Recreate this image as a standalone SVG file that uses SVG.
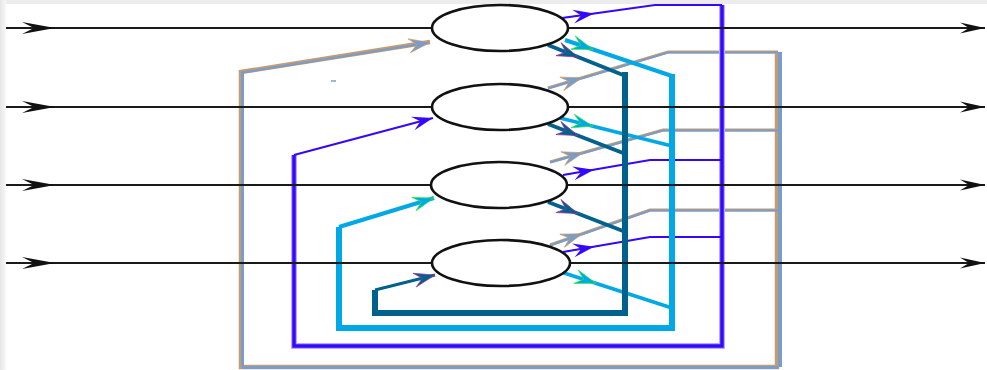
<svg xmlns="http://www.w3.org/2000/svg" width="987" height="370" viewBox="0 0 987 370">
<defs>
<style>
.blk{fill:none;stroke:#1a1a1a;stroke-width:2}
.node{fill:#fff;stroke:#111;stroke-width:2.6}
.dk{fill:none;stroke:#00628c;stroke-linejoin:miter}
.lb{fill:none;stroke:#00a8e6;stroke-linejoin:miter}
.vi{fill:none;stroke:#3608fa;stroke-linejoin:miter}
.viG{fill:none;stroke:#b4a8ff;stroke-linejoin:miter}
.gyT{fill:none;stroke:#c49c70;stroke-linejoin:miter}
.gy{fill:none;stroke:#7a9cc8;stroke-linejoin:miter}
</style>
<marker id="aL" markerUnits="userSpaceOnUse" markerWidth="36" markerHeight="14" viewBox="-34 -7 35 14" refX="0" refY="0" orient="auto"><path d="M0,0 L-33,-6 L-21,0 L-33,6 Z" fill="#111"/></marker>
<marker id="aR" markerUnits="userSpaceOnUse" markerWidth="28" markerHeight="14" viewBox="-26 -7 27 14" refX="0" refY="0" orient="auto"><path d="M0,0 L-25,-5.5 L-16,0 L-25,5.5 Z" fill="#111"/></marker>
<marker id="mDk" markerUnits="userSpaceOnUse" markerWidth="26" markerHeight="18" viewBox="-24 -9 25 18" refX="0" refY="0" orient="auto"><path d="M0,0 L-21,-7 L-13,0 L-21,7 Z" fill="#00628c" stroke="#a030a0" stroke-width="0.7"/></marker>
<marker id="mLb" markerUnits="userSpaceOnUse" markerWidth="26" markerHeight="18" viewBox="-24 -9 25 18" refX="0" refY="0" orient="auto"><path d="M0,0 L-21,-7 L-13,0 L-21,7 Z" fill="#00a8e6" stroke="#30e840" stroke-width="0.7"/></marker>
<marker id="mVi" markerUnits="userSpaceOnUse" markerWidth="26" markerHeight="18" viewBox="-24 -9 25 18" refX="0" refY="0" orient="auto"><path d="M0,0 L-21,-7 L-13,0 L-21,7 Z" fill="#3608fa"/></marker>
<marker id="mGy" markerUnits="userSpaceOnUse" markerWidth="26" markerHeight="18" viewBox="-24 -9 25 18" refX="0" refY="0" orient="auto"><path d="M0,0 L-21,-7 L-13,0 L-21,7 Z" fill="#7a9cc8" stroke="#c49c70" stroke-width="0.7"/></marker>
<linearGradient id="lg" x1="0" x2="1" y1="0" y2="0"><stop offset="0" stop-color="#e6e6e6"/><stop offset="1" stop-color="#f8f8f8"/></linearGradient>
</defs>
<rect x="0" y="0" width="987" height="370" fill="#fff"/>
<rect x="0" y="0" width="987" height="4" fill="#ececec"/>
<rect x="0" y="0" width="6" height="370" fill="url(#lg)"/>

<g id="connectors">
  <g id="gray-bus">
    <path class="gyT" stroke-width="3.2" d="M548,88 L668,52 L778,52"/>
    <path class="gyT" stroke-width="4.5" d="M777,52 L777,367 L241,367 L241,72 L430,42"/>
    <path class="gyT" stroke-width="3" d="M550,162 L663,130 L778,130"/>
    <path class="gyT" stroke-width="3" d="M550,245 L650,210 L778,210"/>
    <path class="gy" stroke-width="2.2" d="M548,88.5 L668,52.5 L778,52.5"/>
    <path class="gy" stroke-width="4" d="M780,52 L780,367"/>
    <path class="gy" stroke-width="3" d="M778,367.5 L242,367.5"/>
    <path class="gy" stroke-width="3" d="M242.5,367 L242.5,72"/>
    <path class="gy" stroke-width="2.2" d="M242,72.5 L430,42.5" marker-end="url(#mGy)"/>
    <path class="gy" stroke-width="2.2" d="M550,162.5 L663,130.5 L778,130.5"/>
    <path class="gy" stroke-width="2.2" d="M550,245.5 L650,210.5 L778,210.5"/>
    <polyline class="gy" stroke-width="1" points="548,88 582,77.8 590,75.4" marker-mid="url(#mGy)"/>
    <polyline class="gy" stroke-width="1" points="550,162 583,152.7 590,150.6" marker-mid="url(#mGy)"/>
    <polyline class="gy" stroke-width="1" points="550,245 582,233.8 590,231" marker-mid="url(#mGy)"/>
    <path class="gy" stroke-width="1.5" d="M331,81 L336,81"/>
  </g>
  <g id="violet-bus">
    <path class="viG" stroke-width="6" d="M722,5 L722,346 L294,346 L294,155"/>
    <path class="vi" stroke-width="2.2" d="M562,18 L655,5 L722,5"/>
    <path class="vi" stroke-width="3.5" d="M722,5 L722,346 L294,346 L294,155"/>
    <path class="vi" stroke-width="2.2" d="M294,155 L433,118" marker-end="url(#mVi)"/>
    <path class="vi" stroke-width="2" d="M563,175 L650,160 L722,160"/>
    <path class="vi" stroke-width="2" d="M563,252 L650,237 L722,237"/>
    <polyline class="vi" stroke-width="1" points="562,18 594,13.6 600,12.7" marker-mid="url(#mVi)"/>
    <polyline class="vi" stroke-width="1" points="563,175 594,169.7 600,168.6" marker-mid="url(#mVi)"/>
    <polyline class="vi" stroke-width="1" points="563,252 594,246.7 600,245.6" marker-mid="url(#mVi)"/>
  </g>
  <g id="lightblue-bus">
    <path class="lb" stroke-width="4" d="M565,40 L672,76"/>
    <path class="lb" stroke-width="6" d="M672,74 L672,328 L339,328 L339,227"/>
    <path class="lb" stroke-width="4" d="M339,227 L434,198" marker-end="url(#mLb)"/>
    <path class="lb" stroke-width="3.5" d="M560,118 L672,146"/>
    <path class="lb" stroke-width="3.5" d="M561,272 L672,308"/>
    <polyline class="lb" stroke-width="1" points="565,40 593,49.4 600,51.8" marker-mid="url(#mLb)"/>
    <polyline class="lb" stroke-width="1" points="560,118 593,126.2 600,128" marker-mid="url(#mLb)"/>
    <polyline class="lb" stroke-width="1" points="561,272 596,283.3 602,285.3" marker-mid="url(#mLb)"/>
  </g>
  <g id="darkblue-bus">
    <path class="dk" stroke-width="4" d="M548,45 L623,75"/>
    <path class="dk" stroke-width="4" d="M548,124 L623,153"/>
    <path class="dk" stroke-width="4" d="M548,202 L623,231"/>
    <path class="dk" stroke-width="6" d="M625,72 L625,313 L375,313 L375,290"/>
    <path class="dk" stroke-width="3" d="M375,290 L435,275" marker-end="url(#mDk)"/>
    <polyline class="dk" stroke-width="1" points="548,45 578,57 585,59.8" marker-mid="url(#mDk)"/>
    <polyline class="dk" stroke-width="1" points="548,124 578,135.6 585,138.3" marker-mid="url(#mDk)"/>
    <polyline class="dk" stroke-width="1" points="548,202 578,213.6 585,216.3" marker-mid="url(#mDk)"/>
  </g>
  <g id="io-lines">
    <polyline class="blk" points="6,28 55,28 985,28" marker-mid="url(#aL)" marker-end="url(#aR)"/>
    <polyline class="blk" points="6,107 55,107 985,107" marker-mid="url(#aL)" marker-end="url(#aR)"/>
    <polyline class="blk" points="6,185 55,185 985,185" marker-mid="url(#aL)" marker-end="url(#aR)"/>
    <polyline class="blk" points="6,263 55,263 985,263" marker-mid="url(#aL)" marker-end="url(#aR)"/>
  </g>
</g>

<g id="neuron1"><ellipse class="node" cx="500" cy="28" rx="68" ry="23"/></g>
<g id="neuron2"><ellipse class="node" cx="500" cy="107" rx="68" ry="23"/></g>
<g id="neuron3"><ellipse class="node" cx="499" cy="185" rx="68" ry="23"/></g>
<g id="neuron4"><ellipse class="node" cx="501" cy="263" rx="69" ry="23"/></g>
</svg>
